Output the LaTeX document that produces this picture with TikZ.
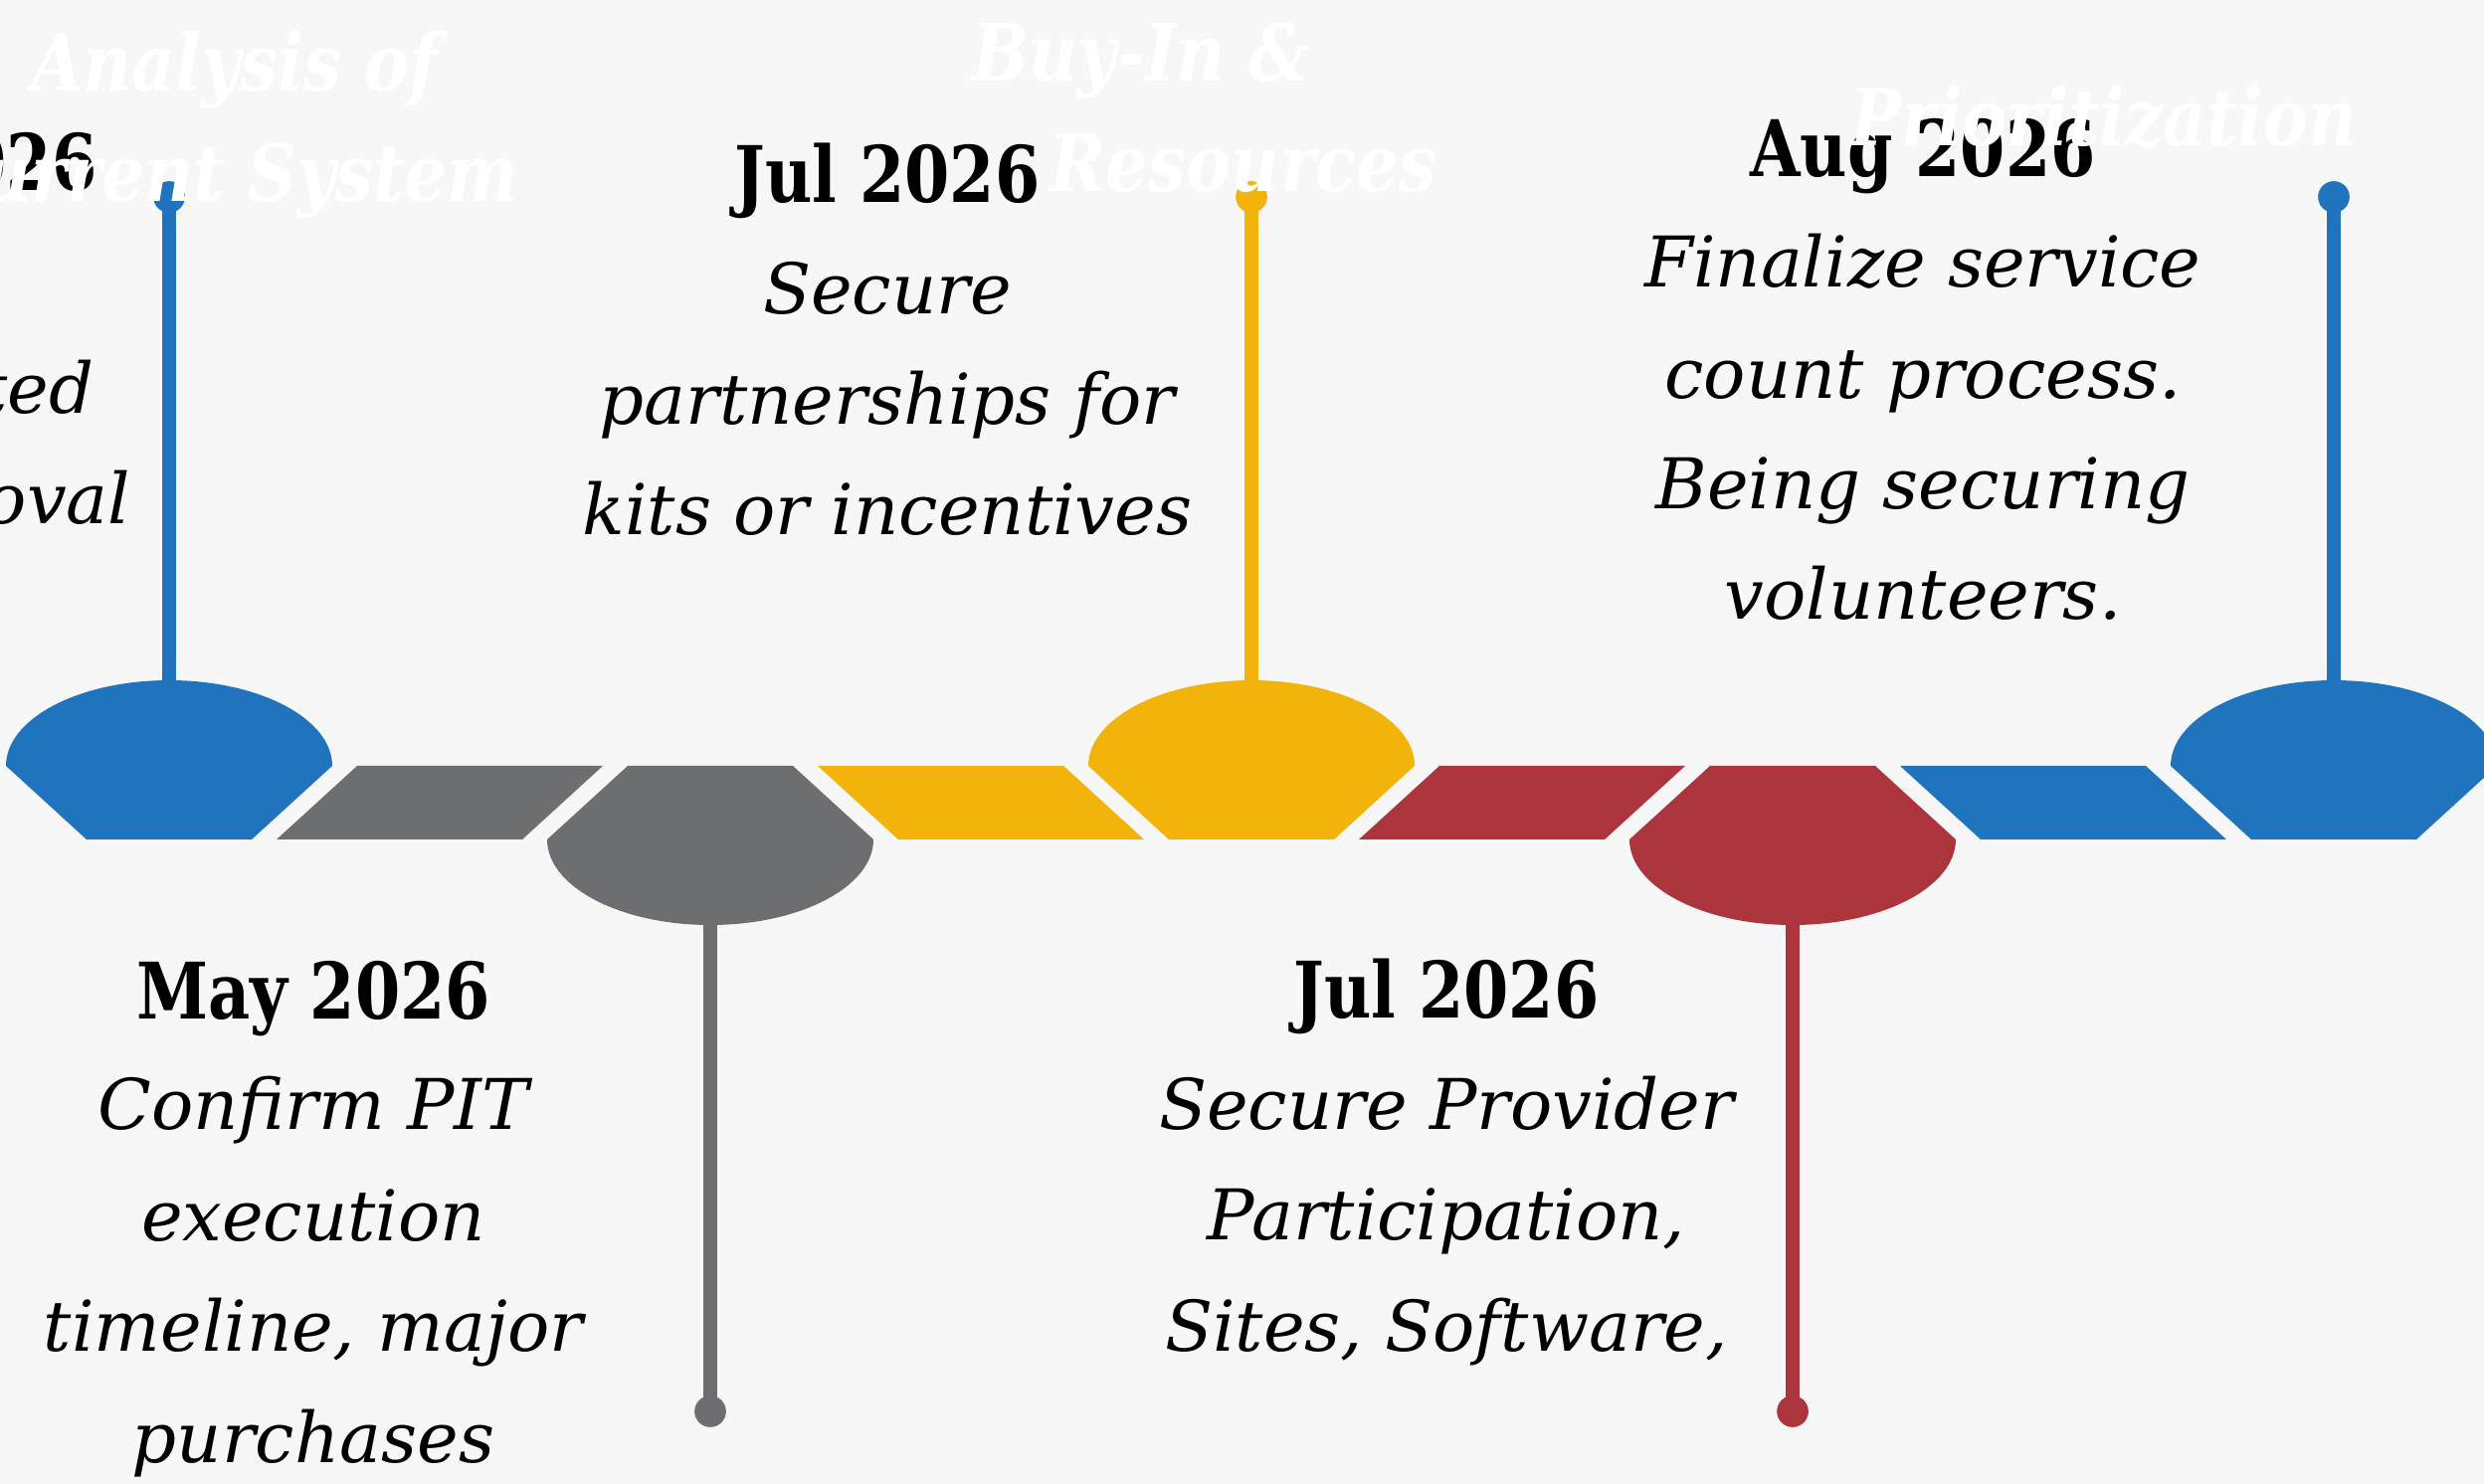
\documentclass[tikz,border=0pt]{standalone}
\usepackage{fontspec}
\setmainfont{DejaVu Serif}
\newfontfamily\datefont[FakeStretch=0.83]{DejaVu Serif}
\newfontfamily\headfont[FakeStretch=0.85]{DejaVu Serif}
\definecolor{tlblue}{HTML}{1F74BD}
\definecolor{tlgray}{HTML}{6D6E71}
\definecolor{tlyellow}{HTML}{F2B30B}
\definecolor{tlred}{HTML}{AC343C}
\definecolor{bg}{HTML}{F7F7F7}
\newcommand\updome[2]{%
  \fill[#2] ({#1-83},844) -- ({#1-164},770)
    .. controls ({#1-164},722.5) and ({#1-90.6},684) .. ({#1},684)
    .. controls ({#1+90.6},684) and ({#1+164},722.5) .. ({#1+164},770)
    -- ({#1+83},844) -- cycle;}
\newcommand\downdome[2]{%
  \fill[#2] ({#1-83},770) -- ({#1+83},770) -- ({#1+164},844)
    .. controls ({#1+164},891.5) and ({#1+90.6},930) .. ({#1},930)
    .. controls ({#1-90.6},930) and ({#1-164},891.5) .. ({#1-164},844)
    -- cycle;}
\newcommand\slashpar[2]{%
  \fill[#2] ({#1+108},844) -- ({#1+189},770) -- ({#1+436},770) -- ({#1+355},844) -- cycle;}
\newcommand\bslashpar[2]{%
  \fill[#2] ({#1+108},770) -- ({#1+189},844) -- ({#1+436},844) -- ({#1+355},770) -- cycle;}
\newcommand\dtx[1]{{\datefont\upshape\bfseries\fontsize{22.3}{31.7}\selectfont #1}}
\begin{document}
\begin{tikzpicture}[x=0.01cm,y=-0.01cm,
  stem/.style={line width=3.8pt},
  pinc/.style={circle,inner sep=0pt,minimum size=9pt,fill=#1},
  body/.style={align=center,inner sep=0pt,font=\itshape\fontsize{20}{31.7}\selectfont},
  dt/.style={inner sep=0pt,font=\datefont\bfseries\fontsize{22.3}{31.7}\selectfont},
  head/.style={inner sep=0pt,text=white,font=\headfont\bfseries\itshape\fontsize{22.6}{31.7}\selectfont}]
\useasboundingbox (0,0) rectangle (2497,1492);
\clip (0,0) rectangle (2497,1492);
\fill[bg] (0,0) rectangle (2497,1492);
% timeline shapes
\updome{170}{tlblue}
\slashpar{170}{tlgray}
\downdome{714}{tlgray}
\bslashpar{714}{tlyellow}
\updome{1258}{tlyellow}
\slashpar{1258}{tlred}
\downdome{1802}{tlred}
\bslashpar{1802}{tlblue}
\updome{2346}{tlblue}
% stems
\coordinate (d1) at (170,684);
\coordinate (d2) at (714,930);
\coordinate (d3) at (1258,684);
\coordinate (d4) at (1802,930);
\coordinate (d5) at (2346,684);
\node[pinc=tlblue] (p1) at (170,198) {};
\node[pinc=tlgray] (p2) at (714,1419) {};
\node[pinc=tlyellow] (p3) at (1258,198) {};
\node[pinc=tlred] (p4) at (1802,1419) {};
\node[pinc=tlblue] (p5) at (2346,198) {};
\draw[stem,tlblue] (d1) -- (p1.center);
\draw[stem,tlgray] (d2) -- (p2.center);
\draw[stem,tlyellow] (d3) -- (p3.center);
\draw[stem,tlred] (d4) -- (p4.center);
\draw[stem,tlblue] (d5) -- (p5.center);
% texts (anchor=base is the baseline of the last line)
\node[dt,anchor=base east] (t0a) at (98,192) {2026};
\node[body,anchor=base east] (t0b) at (95,416) {ted};
\node[body,anchor=base east] (t0c) at (132,527) {oval};
\node[body,anchor=base] (t1) at (892,538) {\dtx{Jul 2026}\\Secure\\partnerships for\\kits or incentives};
\node[body,anchor=base] (t2) at (1933,623) {\dtx{Aug 2026}\\Finalize service\\count process.\\Being securing\\volunteers.};
\node[body,anchor=base] (t3) at (315,1470) {\dtx{May 2026}\\Confirm PIT\\execution\\timeline, major\\purchases};
\node[body,anchor=base] (t4) at (1454,1358) {\dtx{Jul 2026}\\Secure Provider\\Participation,\\Sites, Software,};
% faint white headings
\node[head,anchor=base] (h1) at (236,92) {Analysis of};
\node[head,anchor=base east] (h2) at (522,203) {Current System};
\node[head,anchor=base west] (h3) at (977,82) {Buy-In \&};
\node[head,anchor=base west] (h4) at (1055,193) {Resources};
\node[head,anchor=base west] (h5) at (1860,147) {Prioritization};
\end{tikzpicture}
\end{document}
